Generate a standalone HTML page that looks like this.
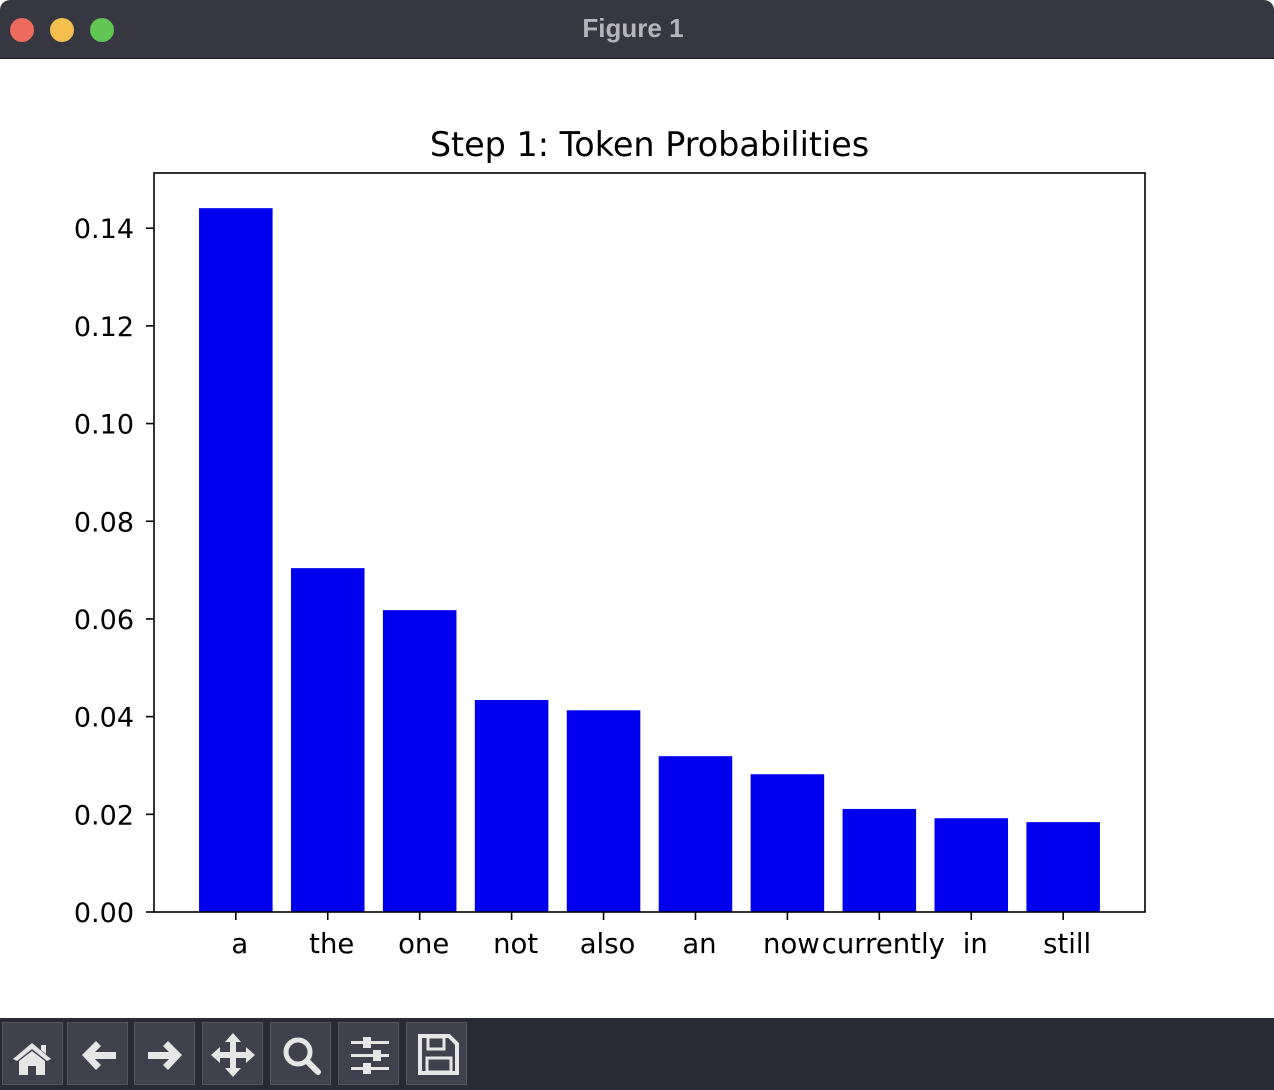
<!DOCTYPE html>
<html><head><meta charset="utf-8"><style>
html,body{margin:0;padding:0;width:1274px;height:1090px;overflow:hidden;background:#fff;font-family:"DejaVu Sans","Liberation Sans",sans-serif;}
#titlebar{position:absolute;left:0;top:0;width:1274px;height:58px;background:#373741;border-bottom:1px solid #1e1e24;border-radius:10px 10px 0 0;}
.dot{position:absolute;top:18px;width:24px;height:24px;border-radius:50%;}
#wtitle{position:absolute;left:0;width:1266px;top:13px;text-align:center;color:#b4b4ba;font-weight:bold;font-size:26px;font-family:"Liberation Sans",sans-serif;}
#toolbar{position:absolute;left:0;top:1018px;width:1274px;height:72px;background:#2a2a35;}
.btn{position:absolute;top:4px;width:61px;height:63px;background:#41414d;border:1px solid #55555f;box-sizing:border-box;}
</style></head><body>
<div id="titlebar">
<div class="dot" style="left:10px;background:#ed6a5e"></div>
<div class="dot" style="left:50px;background:#f5bf4f"></div>
<div class="dot" style="left:90px;background:#61c554"></div>
<div id="wtitle">Figure 1</div>
</div>
<svg id="chart" width="1274" height="960" style="position:absolute;left:0;top:58px"></svg>
<div id="toolbar">
<div class="btn" style="left:2px"><svg width="59" height="61"><path d="M10 36 L29 20 L48 36 L44 38 L29 26 L14 38Z M16 38 L29 28 L42 38 L42 52 L33 52 L33 43 L25 43 L25 52 L16 52Z M38 22 h5 v9 l-5 -4z" fill="#e6e6e6"/></svg></div>
<div class="btn" style="left:67px"><svg width="61" height="61"><path d="M14 32 L28 18 L33 23 L27 29 L48 29 L48 36 L27 36 L33 42 L28 47Z" fill="#e6e6e6"/></svg></div>
<div class="btn" style="left:134px"><svg width="61" height="61"><path d="M47 32 L33 18 L28 23 L34 29 L13 29 L13 36 L34 36 L28 42 L33 47Z" fill="#e6e6e6"/></svg></div>
<div class="btn" style="left:202px"><svg width="61" height="61"><path d="M30 10 L38 19 L33 19 L33 29 L43 29 L43 24 L52 32 L43 40 L43 35 L33 35 L33 45 L38 45 L30 54 L22 45 L27 45 L27 35 L17 35 L17 40 L8 32 L17 24 L17 29 L27 29 L27 19 L22 19Z" fill="#e6e6e6"/></svg></div>
<div class="btn" style="left:270px"><svg width="61" height="61"><circle cx="27" cy="29" r="12" fill="none" stroke="#e6e6e6" stroke-width="5"/><path d="M36 38 L47 49" stroke="#e6e6e6" stroke-width="6" stroke-linecap="round"/></svg></div>
<div class="btn" style="left:338px"><svg width="61" height="61" fill="#e6e6e6"><rect x="12" y="18" width="38" height="3"/><rect x="12" y="31" width="38" height="3"/><rect x="12" y="44" width="38" height="3"/><rect x="24" y="14" width="8" height="11"/><rect x="34" y="27" width="8" height="11"/><rect x="24" y="40" width="8" height="11"/></svg></div>
<div class="btn" style="left:406px"><svg width="61" height="61"><path d="M13 13 L42 13 L50 21 L50 50 L13 50Z" fill="none" stroke="#e6e6e6" stroke-width="4"/><rect x="21" y="14" width="16" height="12" fill="none" stroke="#e6e6e6" stroke-width="3"/><rect x="20" y="35" width="24" height="14" fill="none" stroke="#e6e6e6" stroke-width="3"/></svg></div>
</div>
<script>
const categories=["a","the","one","not","also","an","now","currently","in","still"];
const values=[0.1441,0.0704,0.0618,0.0434,0.0413,0.0319,0.0282,0.0211,0.0192,0.0184];
const yTicks=[0,0.02,0.04,0.06,0.08,0.10,0.12,0.14];
const yTickLabels=["0.00","0.02","0.04","0.06","0.08","0.10","0.12","0.14"];
const svg=document.getElementById('chart');
const NS='http://www.w3.org/2000/svg';
const L=154,R=1145,T=115,B=854;
const xmin=-0.89,xmax=9.89,ymax=0.1513;
const xs=i=>L+(i-xmin)/(xmax-xmin)*(R-L);
const ys=v=>B-v/ymax*(B-T);
function mk(tag,attrs){const e=document.createElementNS(NS,tag);for(const k in attrs)e.setAttribute(k,attrs[k]);svg.appendChild(e);return e;}
values.forEach((v,i)=>{
const r=mk('rect',{x:xs(i-0.4),y:ys(v),width:xs(0.4)-xs(-0.4),height:B-ys(v),fill:'#0000ee'});


});
const fr=mk('rect',{x:L,y:T,width:R-L,height:B-T,fill:'none',stroke:'#000','stroke-width':1.6});


yTicks.forEach((t,i)=>{
const y=ys(t);
mk('line',{x1:L-8,x2:L,y1:y,y2:y,stroke:'#000','stroke-width':1.6});
const tx=mk('text',{x:L-20,y:y+10,'text-anchor':'end','font-size':'27px',fill:'#000'});
tx.textContent=yTickLabels[i];


});
categories.forEach((c,i)=>{
const x=xs(i);
mk('line',{x1:x,x2:x,y1:B,y2:B+8,stroke:'#000','stroke-width':1.6});
const tx=mk('text',{x:x+4,y:B+41,'text-anchor':'middle','font-size':'27.5px',fill:'#000'});
tx.textContent=c;


});
const ti=mk('text',{x:(L+R)/2,y:T-17,'text-anchor':'middle','font-size':'33.4px',fill:'#000'});
ti.textContent='Step 1: Token Probabilities';


</script>
</body></html>
